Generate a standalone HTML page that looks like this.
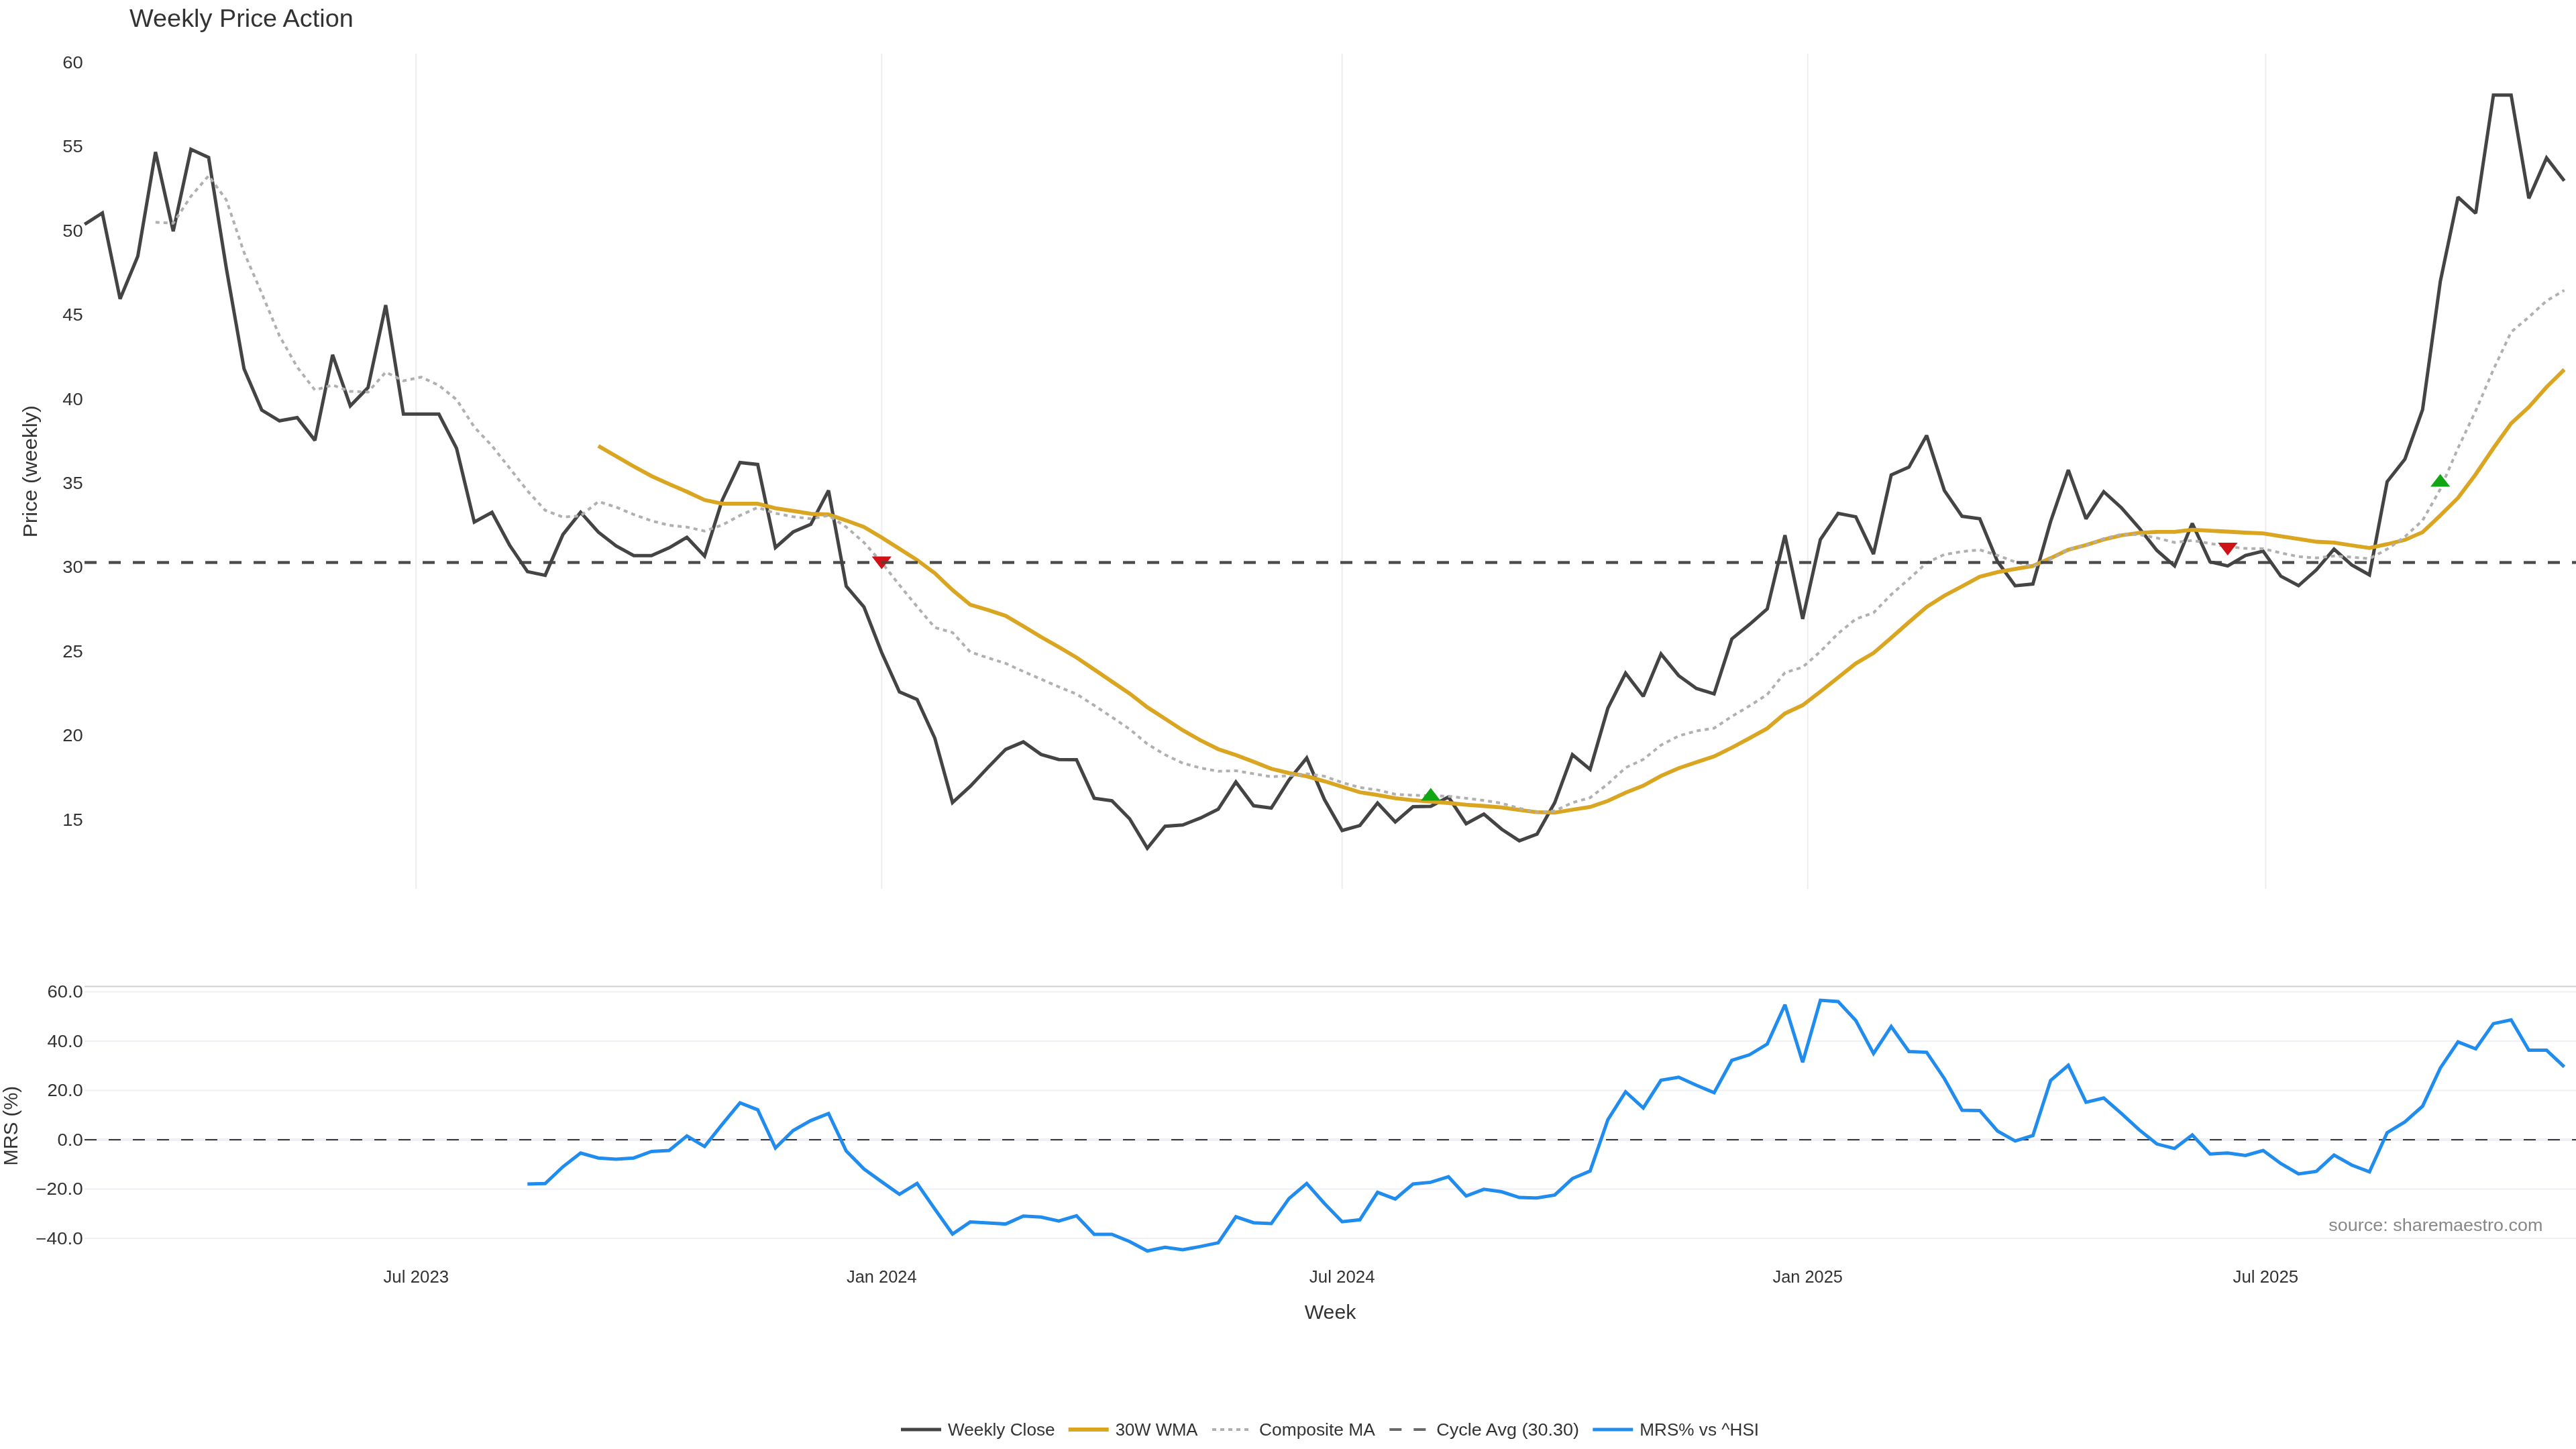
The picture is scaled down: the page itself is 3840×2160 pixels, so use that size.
<!DOCTYPE html>
<html lang="en">
<head>
<meta charset="utf-8">
<title>Weekly Price Action</title>
<style>
html,body{margin:0;padding:0;background:#ffffff;}
body{width:3840px;height:2160px;overflow:hidden;font-family:"Liberation Sans", sans-serif;}
svg{display:block;will-change:transform;}
svg text{font-family:"Liberation Sans", sans-serif;}
.l{fill:none;stroke-linejoin:miter;stroke-linecap:butt;stroke-miterlimit:2;}
</style>
</head>
<body>
<svg width="3840" height="2160" viewBox="0 0 3840 2160">
<rect x="0" y="0" width="3840" height="2160" fill="#ffffff"/>
<g stroke="#ededf1" stroke-width="2">
<line x1="620.3" y1="80" x2="620.3" y2="1325"/>
<line x1="1314.3" y1="80" x2="1314.3" y2="1325"/>
<line x1="2000.7" y1="80" x2="2000.7" y2="1325"/>
<line x1="2694.7" y1="80" x2="2694.7" y2="1325"/>
<line x1="3377.4" y1="80" x2="3377.4" y2="1325"/>
</g>
<g stroke="#efeff5" stroke-width="2">
<line x1="126" y1="1478.6" x2="3840" y2="1478.6"/>
<line x1="126" y1="1552.0" x2="3840" y2="1552.0"/>
<line x1="126" y1="1625.5" x2="3840" y2="1625.5"/>
<line x1="126" y1="1772.5" x2="3840" y2="1772.5"/>
<line x1="126" y1="1846.0" x2="3840" y2="1846.0"/>
</g>
<line x1="126" y1="1699.0" x2="3840" y2="1699.0" stroke="#efeff5" stroke-width="4"/>
<line x1="126" y1="1470.4" x2="3840" y2="1470.4" stroke="#d0d0d0" stroke-width="2"/>
<polyline class="l" points="126.2,334.3 152.6,317.5 179.0,445.6 205.4,382.0 231.8,226.6 258.2,344.7 284.6,222.5 311.0,234.8 337.4,400.0 363.8,549.8 390.2,611.3 416.6,627.3 443.0,622.5 469.4,656.4 495.8,528.9 522.2,605.0 548.6,577.8 575.0,454.8 601.4,617.3 627.8,617.3 654.2,617.3 680.6,668.3 707.0,778.3 733.4,763.7 759.8,812.9 786.3,852.1 812.7,857.6 839.1,796.9 865.5,763.7 891.9,793.2 918.3,813.7 944.7,828.2 971.1,828.2 997.5,816.6 1023.9,801.0 1050.3,829.0 1076.7,745.3 1103.1,689.4 1129.5,692.4 1155.9,816.2 1182.3,793.0 1208.7,781.5 1235.1,731.2 1261.5,873.9 1287.9,904.8 1314.3,972.7 1340.7,1031.3 1367.1,1042.7 1393.5,1100.3 1419.9,1196.3 1446.3,1172.1 1472.7,1144.1 1499.1,1117.1 1525.5,1105.9 1551.9,1124.6 1578.3,1132.2 1604.7,1132.4 1631.1,1189.9 1657.5,1193.7 1683.9,1220.5 1710.3,1264.5 1736.7,1231.7 1763.1,1229.8 1789.5,1219.4 1815.9,1206.3 1842.3,1165.7 1868.7,1201.1 1895.1,1204.5 1921.5,1162.7 1947.9,1129.9 1974.3,1191.8 2000.7,1238.0 2027.1,1230.6 2053.5,1197.0 2079.9,1225.3 2106.3,1202.6 2132.8,1201.9 2159.2,1188.1 2185.6,1228.0 2212.0,1213.6 2238.4,1236.0 2264.8,1253.4 2291.2,1243.4 2317.6,1196.5 2344.0,1125.0 2370.4,1147.0 2396.8,1055.7 2423.2,1003.5 2449.6,1038.1 2476.0,974.8 2502.4,1007.2 2528.8,1026.2 2555.2,1034.4 2581.6,952.4 2608.0,930.8 2634.4,907.7 2660.8,797.8 2687.2,922.6 2713.6,804.3 2740.0,765.3 2766.4,770.4 2792.8,825.9 2819.2,708.0 2845.6,696.4 2872.0,649.1 2898.4,731.1 2924.8,769.6 2951.2,773.3 2977.6,837.0 3004.0,873.2 3030.4,870.6 3056.8,777.5 3083.2,700.5 3109.6,773.3 3136.0,733.0 3162.4,757.0 3188.8,787.0 3215.2,820.5 3241.6,843.6 3268.0,780.3 3294.4,837.3 3320.8,843.6 3347.2,828.0 3373.6,821.6 3400.0,858.9 3426.4,873.0 3452.9,849.6 3479.3,818.6 3505.7,842.1 3532.1,857.0 3558.5,718.0 3584.9,684.5 3611.3,610.6 3637.7,419.8 3664.1,293.8 3690.5,318.0 3716.9,141.7 3743.3,141.7 3769.7,295.7 3796.1,235.3 3822.5,269.6" stroke="#444444" stroke-width="5"/>
<polyline class="l" points="891.9,664.8 918.3,680.0 944.7,695.2 971.1,709.6 997.5,721.6 1023.9,733.0 1050.3,745.3 1076.7,750.9 1103.1,750.9 1129.5,750.9 1155.9,757.6 1182.3,761.7 1208.7,765.8 1235.1,767.0 1261.5,775.9 1287.9,785.6 1314.3,801.2 1340.7,818.0 1367.1,834.8 1393.5,854.5 1419.9,879.5 1446.3,901.5 1472.7,909.3 1499.1,917.9 1525.5,933.5 1551.9,949.4 1578.3,964.5 1604.7,980.1 1631.1,998.0 1657.5,1016.0 1683.9,1033.8 1710.3,1054.3 1736.7,1071.4 1763.1,1088.6 1789.5,1103.5 1815.9,1116.7 1842.3,1125.5 1868.7,1135.5 1895.1,1146.0 1921.5,1152.3 1947.9,1157.1 1974.3,1164.6 2000.7,1172.8 2027.1,1181.0 2053.5,1185.1 2079.9,1189.9 2106.3,1192.9 2132.8,1194.8 2159.2,1197.0 2185.6,1199.6 2212.0,1201.5 2238.4,1203.6 2264.8,1207.4 2291.2,1210.7 2317.6,1211.4 2344.0,1207.0 2370.4,1202.9 2396.8,1193.9 2423.2,1181.6 2449.6,1171.2 2476.0,1156.7 2502.4,1145.1 2528.8,1136.2 2555.2,1127.6 2581.6,1114.5 2608.0,1100.4 2634.4,1085.8 2660.8,1063.5 2687.2,1051.2 2713.6,1031.0 2740.0,1010.0 2766.4,989.0 2792.8,973.5 2819.2,950.8 2845.6,927.5 2872.0,904.8 2898.4,888.0 2924.8,874.0 2951.2,859.8 2977.6,852.9 3004.0,848.2 3030.4,843.6 3056.8,832.0 3083.2,819.4 3109.6,812.5 3136.0,804.3 3162.4,798.0 3188.8,794.4 3215.2,792.9 3241.6,792.9 3268.0,789.6 3294.4,791.1 3320.8,792.5 3347.2,794.0 3373.6,795.2 3400.0,799.3 3426.4,803.4 3452.9,807.5 3479.3,808.9 3505.7,813.0 3532.1,816.8 3558.5,811.2 3584.9,804.8 3611.3,793.3 3637.7,768.3 3664.1,742.2 3690.5,707.0 3716.9,668.0 3743.3,631.1 3769.7,606.8 3796.1,577.0 3822.5,550.9" stroke="#DAA520" stroke-width="5.8"/>
<polyline class="l" points="231.8,331.3 258.2,332.8 284.6,292.6 311.0,262.0 337.4,298.0 363.8,376.4 390.2,437.3 416.6,500.6 443.0,547.2 469.4,581.5 495.8,574.0 522.2,583.4 548.6,584.5 575.0,554.7 601.4,567.7 627.8,562.1 654.2,574.4 680.6,595.7 707.0,636.6 733.4,664.6 759.8,698.0 786.3,731.7 812.7,760.7 839.1,770.8 865.5,769.0 891.9,747.7 918.3,755.9 944.7,767.0 971.1,776.4 997.5,783.0 1023.9,785.7 1050.3,791.6 1076.7,782.6 1103.1,768.4 1129.5,756.5 1155.9,765.1 1182.3,770.3 1208.7,773.3 1235.1,768.4 1261.5,785.6 1287.9,808.7 1314.3,838.5 1340.7,872.1 1367.1,904.3 1393.5,935.4 1419.9,942.9 1446.3,971.9 1472.7,980.6 1499.1,988.9 1525.5,1001.0 1551.9,1012.4 1578.3,1023.9 1604.7,1034.6 1631.1,1051.5 1657.5,1069.0 1683.9,1086.9 1710.3,1109.0 1736.7,1125.1 1763.1,1137.6 1789.5,1144.8 1815.9,1149.7 1842.3,1148.9 1868.7,1153.4 1895.1,1157.9 1921.5,1156.4 1947.9,1153.4 1974.3,1157.1 2000.7,1166.5 2027.1,1173.9 2053.5,1177.6 2079.9,1184.0 2106.3,1185.5 2132.8,1186.2 2159.2,1187.0 2185.6,1189.9 2212.0,1193.2 2238.4,1197.3 2264.8,1205.0 2291.2,1210.8 2317.6,1208.8 2344.0,1196.5 2370.4,1189.1 2396.8,1168.6 2423.2,1144.4 2449.6,1132.1 2476.0,1110.8 2502.4,1097.0 2528.8,1089.6 2555.2,1085.5 2581.6,1068.0 2608.0,1052.3 2634.4,1035.2 2660.8,1002.7 2687.2,994.5 2713.6,971.2 2740.0,944.4 2766.4,922.8 2792.8,913.5 2819.2,886.3 2845.6,863.2 2872.0,839.0 2898.4,826.6 2924.8,822.2 2951.2,819.6 2977.6,827.8 3004.0,837.8 3030.4,844.2 3056.8,833.4 3083.2,819.2 3109.6,812.9 3136.0,803.0 3162.4,796.5 3188.8,797.0 3215.2,801.9 3241.6,808.6 3268.0,805.6 3294.4,810.1 3320.8,814.9 3347.2,817.5 3373.6,817.9 3400.0,824.2 3426.4,829.8 3452.9,831.7 3479.3,828.7 3505.7,830.6 3532.1,832.8 3558.5,818.6 3584.9,800.0 3611.3,775.8 3637.7,729.2 3664.1,668.0 3690.5,612.4 3716.9,550.9 3743.3,495.0 3769.7,472.7 3796.1,448.5 3822.5,432.8" stroke="#b0b0b0" stroke-width="4" stroke-dasharray="6 6"/>
<line x1="126" y1="838.5" x2="3840" y2="838.5" stroke="#444444" stroke-opacity="0.8" stroke-width="4" stroke-dasharray="18 18"/>
<path d="M1299.6,829.4H1329.0L1314.3,848.4Z" fill="#d01217"/>
<path d="M3306.2,808.9H3335.5L3320.8,828.0Z" fill="#d01217"/>
<path d="M2118.1,1193.6H2147.4L2132.8,1174.6Z" fill="#12a612"/>
<path d="M3623.0,725.5H3652.3L3637.7,706.4Z" fill="#12a612"/>
<line x1="126" y1="838.5" x2="3840" y2="838.5" stroke="#444444" stroke-opacity="0.8" stroke-width="4" stroke-dasharray="18 18"/>
<line x1="126" y1="1699.0" x2="3840" y2="1699.0" stroke="#363636" stroke-width="2.2" stroke-dasharray="18 18"/>
<polyline class="l" points="786.3,1765.0 812.7,1764.2 839.1,1739.3 865.5,1718.8 891.9,1726.2 918.3,1728.1 944.7,1726.2 971.1,1716.5 997.5,1715.0 1023.9,1693.4 1050.3,1709.1 1076.7,1675.9 1103.1,1643.9 1129.5,1654.3 1155.9,1711.3 1182.3,1685.2 1208.7,1670.3 1235.1,1659.9 1261.5,1715.8 1287.9,1742.6 1314.3,1761.6 1340.7,1780.3 1367.1,1764.2 1393.5,1802.2 1419.9,1839.5 1446.3,1821.6 1472.7,1823.1 1499.1,1824.6 1525.5,1812.7 1551.9,1814.2 1578.3,1820.1 1604.7,1812.3 1631.1,1839.9 1657.5,1839.9 1683.9,1850.7 1710.3,1864.8 1736.7,1859.3 1763.1,1863.0 1789.5,1858.1 1815.9,1852.6 1842.3,1813.8 1868.7,1822.7 1895.1,1823.9 1921.5,1786.6 1947.9,1764.2 1974.3,1794.0 2000.7,1821.2 2027.1,1818.3 2053.5,1777.3 2079.9,1787.3 2106.3,1765.0 2132.8,1762.4 2159.2,1754.2 2185.6,1782.9 2212.0,1772.8 2238.4,1776.5 2264.8,1785.1 2291.2,1785.8 2317.6,1781.4 2344.0,1756.8 2370.4,1745.6 2396.8,1669.2 2423.2,1627.5 2449.6,1651.7 2476.0,1610.3 2502.4,1605.8 2528.8,1617.8 2555.2,1628.9 2581.6,1580.5 2608.0,1572.3 2634.4,1556.3 2660.8,1497.8 2687.2,1583.5 2713.6,1491.1 2740.0,1492.9 2766.4,1521.2 2792.8,1570.4 2819.2,1530.2 2845.6,1567.5 2872.0,1568.6 2898.4,1607.7 2924.8,1655.0 2951.2,1655.4 2977.6,1686.0 3004.0,1700.9 3030.4,1692.7 3056.8,1610.7 3083.2,1588.0 3109.6,1643.1 3136.0,1636.8 3162.4,1659.9 3188.8,1684.1 3215.2,1705.3 3241.6,1712.1 3268.0,1691.9 3294.4,1720.3 3320.8,1718.8 3347.2,1722.5 3373.6,1715.0 3400.0,1734.4 3426.4,1750.0 3452.9,1746.2 3479.3,1721.9 3505.7,1736.8 3532.1,1746.9 3558.5,1688.4 3584.9,1672.4 3611.3,1648.9 3637.7,1592.2 3664.1,1553.1 3690.5,1563.5 3716.9,1525.9 3743.3,1520.3 3769.7,1565.4 3796.1,1565.4 3822.5,1590.4" stroke="#208CEE" stroke-width="5"/>
<text x="193.0" y="40.2" font-size="36.04" textLength="333.8" lengthAdjust="spacingAndGlyphs" fill="#333333">Weekly Price Action</text>
<text x="123.8" y="1230.6" font-size="25.44" text-anchor="end" textLength="30.5" lengthAdjust="spacingAndGlyphs" fill="#333333">15</text>
<text x="123.8" y="1105.2" font-size="25.44" text-anchor="end" textLength="30.5" lengthAdjust="spacingAndGlyphs" fill="#333333">20</text>
<text x="123.8" y="979.8" font-size="25.44" text-anchor="end" textLength="30.5" lengthAdjust="spacingAndGlyphs" fill="#333333">25</text>
<text x="123.8" y="854.4" font-size="25.44" text-anchor="end" textLength="30.5" lengthAdjust="spacingAndGlyphs" fill="#333333">30</text>
<text x="123.8" y="729.0" font-size="25.44" text-anchor="end" textLength="30.5" lengthAdjust="spacingAndGlyphs" fill="#333333">35</text>
<text x="123.8" y="603.6" font-size="25.44" text-anchor="end" textLength="30.5" lengthAdjust="spacingAndGlyphs" fill="#333333">40</text>
<text x="123.8" y="478.2" font-size="25.44" text-anchor="end" textLength="30.5" lengthAdjust="spacingAndGlyphs" fill="#333333">45</text>
<text x="123.8" y="352.8" font-size="25.44" text-anchor="end" textLength="30.5" lengthAdjust="spacingAndGlyphs" fill="#333333">50</text>
<text x="123.8" y="227.4" font-size="25.44" text-anchor="end" textLength="30.5" lengthAdjust="spacingAndGlyphs" fill="#333333">55</text>
<text x="123.8" y="102.0" font-size="25.44" text-anchor="end" textLength="30.5" lengthAdjust="spacingAndGlyphs" fill="#333333">60</text>
<text x="123.8" y="1487.3" font-size="25.44" text-anchor="end" textLength="53.4" lengthAdjust="spacingAndGlyphs" fill="#333333">60.0</text>
<text x="123.8" y="1560.8" font-size="25.44" text-anchor="end" textLength="53.4" lengthAdjust="spacingAndGlyphs" fill="#333333">40.0</text>
<text x="123.8" y="1634.3" font-size="25.44" text-anchor="end" textLength="53.4" lengthAdjust="spacingAndGlyphs" fill="#333333">20.0</text>
<text x="123.8" y="1707.8" font-size="25.44" text-anchor="end" textLength="38.2" lengthAdjust="spacingAndGlyphs" fill="#333333">0.0</text>
<text x="123.8" y="1781.2" font-size="25.44" text-anchor="end" textLength="70.5" lengthAdjust="spacingAndGlyphs" fill="#333333">−20.0</text>
<text x="123.8" y="1854.7" font-size="25.44" text-anchor="end" textLength="70.5" lengthAdjust="spacingAndGlyphs" fill="#333333">−40.0</text>
<text x="620.3" y="1911.8" font-size="25.44" text-anchor="middle" textLength="97.7" lengthAdjust="spacingAndGlyphs" fill="#333333">Jul 2023</text>
<text x="1314.3" y="1911.8" font-size="25.44" text-anchor="middle" textLength="104.5" lengthAdjust="spacingAndGlyphs" fill="#333333">Jan 2024</text>
<text x="2000.7" y="1911.8" font-size="25.44" text-anchor="middle" textLength="97.7" lengthAdjust="spacingAndGlyphs" fill="#333333">Jul 2024</text>
<text x="2694.7" y="1911.8" font-size="25.44" text-anchor="middle" textLength="104.5" lengthAdjust="spacingAndGlyphs" fill="#333333">Jan 2025</text>
<text x="3377.4" y="1911.8" font-size="25.44" text-anchor="middle" textLength="97.7" lengthAdjust="spacingAndGlyphs" fill="#333333">Jul 2025</text>
<text x="1983.0" y="1966.2" font-size="29.68" text-anchor="middle" textLength="76.7" lengthAdjust="spacingAndGlyphs" fill="#333333">Week</text>
<text x="54.9" y="702.7" font-size="29.68" text-anchor="middle" textLength="197.0" lengthAdjust="spacingAndGlyphs" transform="rotate(-90 54.9 702.7)" fill="#333333">Price (weekly)</text>
<text x="25.8" y="1678.3" font-size="29.68" text-anchor="middle" textLength="118.8" lengthAdjust="spacingAndGlyphs" transform="rotate(-90 25.8 1678.3)" fill="#333333">MRS (%)</text>
<text x="3790.5" y="1834.5" font-size="25.44" text-anchor="end" textLength="319.2" lengthAdjust="spacingAndGlyphs" fill="#888888">source: sharemaestro.com</text>
<line x1="1343.0" y1="2131" x2="1403.0" y2="2131" stroke="#444444" stroke-width="5"/>
<text x="1413.0" y="2139.8" font-size="25.44" textLength="159.7" lengthAdjust="spacingAndGlyphs" fill="#333333">Weekly Close</text>
<line x1="1592.7" y1="2131" x2="1652.7" y2="2131" stroke="#DAA520" stroke-width="5.8"/>
<text x="1662.7" y="2139.8" font-size="25.44" textLength="122.8" lengthAdjust="spacingAndGlyphs" fill="#333333">30W WMA</text>
<line x1="1807.0" y1="2131" x2="1867.0" y2="2131" stroke="#b0b0b0" stroke-width="4" stroke-dasharray="6 6"/>
<text x="1877.0" y="2139.8" font-size="25.44" textLength="172.8" lengthAdjust="spacingAndGlyphs" fill="#333333">Composite MA</text>
<line x1="2071.3" y1="2131" x2="2131.3" y2="2131" stroke="#696969" stroke-width="4" stroke-dasharray="18 18"/>
<text x="2141.3" y="2139.8" font-size="25.44" textLength="212.7" lengthAdjust="spacingAndGlyphs" fill="#333333">Cycle Avg (30.30)</text>
<line x1="2374.3" y1="2131" x2="2434.3" y2="2131" stroke="#208CEE" stroke-width="5"/>
<text x="2444.3" y="2139.8" font-size="25.44" textLength="177.8" lengthAdjust="spacingAndGlyphs" fill="#333333">MRS% vs ^HSI</text>
</svg>
</body>
</html>
